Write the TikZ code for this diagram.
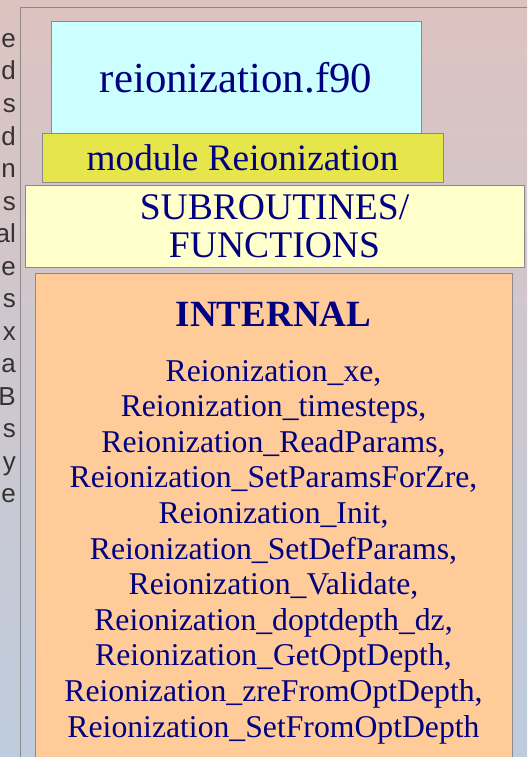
\documentclass[tikz,border=0pt]{standalone}
\usepackage{fontspec}
\setmainfont{Liberation Serif}
\newfontfamily\sidefont{Liberation Sans}
\definecolor{navytext}{RGB}{0,0,128}
\definecolor{filefill}{RGB}{204,255,255}
\definecolor{modfill}{RGB}{230,230,76}
\definecolor{subfill}{RGB}{255,255,204}
\definecolor{intfill}{RGB}{255,204,153}
\definecolor{edgegray}{RGB}{138,138,138}
\definecolor{bgtop}{RGB}{221,195,192}
\definecolor{bgbottom}{RGB}{190,204,222}
\definecolor{sidegray}{RGB}{51,51,51}
\tikzset{
  box/.style={draw=edgegray, line width=1pt, text=navytext, inner sep=0pt, align=center},
  sideletter/.style={anchor=base east, inner sep=0pt, text=sidegray,
    font=\sidefont\fontsize{26}{26}\selectfont},
  entry/.style={anchor=base, inner sep=0pt, text=navytext,
    font=\fontsize{31.7}{35.6}\selectfont}
}
\begin{document}
\begin{tikzpicture}[x=1pt,y=-1pt]
\useasboundingbox (0,0) rectangle (527,757);
\clip (0,0) rectangle (527,757);
\shade[top color=bgtop, bottom color=bgbottom] (0,0) rectangle (527,757);
% slide frame
\draw[edgegray] (20,800) -- (20,7) -- (560,7);
% letters cut at the left edge
\foreach \ch [count=\i] in {e,d,s,d,n,s,al,e,s,x,a,B,s,y,e}
  \node[sideletter] (side\i) at (16,{47.5+32.5*(\i-1)}) {\ch};
% stacked boxes
\node[box, fill=filefill, minimum width=370, minimum height=111,
  font=\fontsize{42.8}{45}\selectfont] (file) at (236,77.5) {reionization.f90};
\node[box, fill=modfill, minimum width=401, minimum height=49,
  font=\fontsize{37.3}{40}\selectfont] (module) at (242.5,157.5) {module Reionization};
\node[box, fill=subfill, minimum width=499, minimum height=82,
  font=\fontsize{37.6}{38}\selectfont] (subs) at (274.5,226) {SUBROUTINES/\\FUNCTIONS};
\node[box, fill=intfill, minimum width=477, minimum height=520] (internal) at (273.5,533) {};
\node[anchor=base, inner sep=0pt, text=navytext,
  font=\bfseries\fontsize{37}{40}\selectfont] (title) at (273.5,326) {INTERNAL};
% routine list
\foreach \fn [count=\i] in {{Reionization\_xe,},
    {Reionization\_timesteps,},
    {Reionization\_ReadParams,},
    {Reionization\_SetParamsForZre,},
    {Reionization\_Init,},
    {Reionization\_SetDefParams,},
    {Reionization\_Validate,},
    {Reionization\_doptdepth\_dz,},
    {Reionization\_GetOptDepth,},
    {Reionization\_zreFromOptDepth,},
    {Reionization\_SetFromOptDepth}}
  \node[entry] (fn\i) at (273.5,{381+35.6*(\i-1)}) {\fn};
\end{tikzpicture}
\end{document}
